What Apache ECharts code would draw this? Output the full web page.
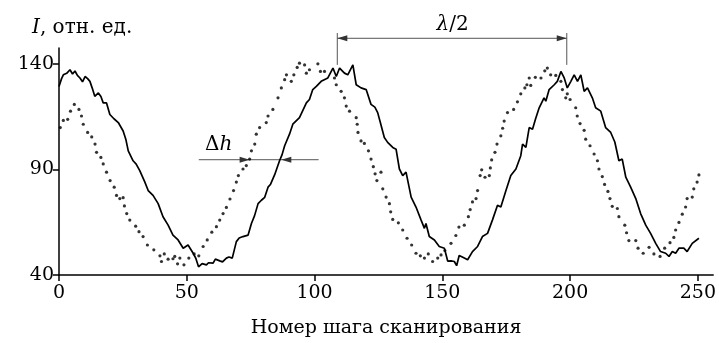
<!DOCTYPE html>
<html>
<head>
<meta charset="utf-8">
<script src="https://cdn.jsdelivr.net/npm/echarts@6/dist/echarts.min.js"></script>
<style>
  html, body { margin: 0; padding: 0; background: #fff; }
  #chart { width: 719px; height: 343px; }
</style>
</head>
<body>
<div id="chart"></div>
<script>
// сплошная кривая
const solidData = [
  [0,129.3],[1,133],[1.7,134.8],[3,135.5],[4.3,137.2],[5.3,135.2],[6.25,136.6],[7.2,134.5],[8.2,133.3],[9.2,131.5],
  [10.2,134],[11.2,133],[12.1,131.7],[13,128.5],[14,124.6],[15.4,126.2],[16.4,124.5],[17.3,121.5],[18.6,121.5],[19.9,116],
  [21.5,114],[23.2,112.2],[25.1,108.2],[26.2,104],[27.1,98.8],[29,94.1],[30.2,92.5],[31.6,89.4],[32.3,88.7],[33.6,84],
  [34.9,80],[36.8,77.7],[38.8,73.8],[40.7,67.6],[42.7,63.6],[44.6,58.9],[46.6,56.6],[48.6,52.7],[50.5,54.2],[52.5,50.3],
  [53.5,48],[54.6,43.9],[56,45.4],[57.7,44.8],[58.5,45.8],[60.3,45.6],[61.2,47.5],[62.9,46.7],[64,46.2],[65.5,48],
  [66.5,48.5],[67.8,48],[69.4,55.8],[70.5,57.5],[72,58.2],[74,58.9],[75.3,64.4],[76.5,68],[77.9,73.8],[79.2,75.4],
  [80.5,76.8],[81.8,81.6],[82.8,83],[84.4,87.5],[86.3,94.1],[87.3,97],[88.3,101.2],[90.2,106.7],[91.5,111.4],[92.2,111],
  [94.1,114.5],[94.8,115.3],[96.8,121.5],[98,123.1],[99.3,127.8],[100.7,129.3],[102.6,131.7],[105.2,133.3],[107.2,138],[108.5,134],
  [109.8,138],[111.7,135.6],[113,134.8],[115,139.5],[116.3,130.1],[118.2,128.6],[120.2,127.8],[122.1,120.8],[123.6,119.5],[124.7,116.9],
  [125.8,112],[127.3,105.1],[128.6,102.8],[130.6,100.4],[131.9,99.6],[133.2,90.2],[134.5,87.1],[135.8,88.7],[137.8,76.9],[139.7,72.2],
  [141.7,66],[143,62.1],[143.6,64.4],[144.9,58.2],[146.9,56.6],[148.8,53.5],[150.8,52.7],[152.1,46.6],[153.4,46.7],[154.7,46.4],
  [155.6,44.4],[156.6,49.2],[158.6,48],[159.9,47.2],[160.5,46.7],[161.8,51.1],[163.8,53.5],[165.7,58.2],[167.7,59.7],[169.6,66],
  [171.6,73],[172.9,72.2],[174.9,80],[176.8,87.1],[178.8,90.2],[180.7,96.5],[181.4,102],[182.7,100.4],[184,109.8],[185.3,109],
  [186.5,114],[187.9,119.2],[189.8,123.9],[190.5,122.3],[191.8,127.8],[193.8,130.1],[195,131.7],[196.4,136.4],[197.7,133.3],[198.9,128.6],
  [200.3,131.7],[201.6,134.8],[202.9,131.7],[204.2,134.8],[205.5,127],[206.8,128.6],[208.7,123.9],[210,119.2],[212,117.6],[213.9,109.8],
  [215.9,107.5],[217.5,103],[219.1,94.1],[220.4,94.9],[221.8,86.3],[223.7,81.6],[225.7,76.2],[227.6,69.1],[229.6,63.6],[231.5,59.7],
  [233.5,55],[235.4,51.1],[237.4,50.3],[238.7,48.8],[240,51.1],[241.3,50.3],[242.6,52.7],[244.5,52.7],[245.8,51.1],[247.8,55],
  [250.4,57.4]
]

// точечная кривая
const dottedData = [
  [0.5,109.8],[1.7,113.2],[3.4,113.7],[4.5,117.6],[6,120.8],[7.8,118.4],[8.8,115.3],[9.5,111.4],[11.2,107.5],[12.8,105.4],
  [14.1,102],[14.7,98.1],[16.4,95.7],[17.3,92.6],[18.6,88.7],[20,84.7],[21.6,81.6],[22.5,77.7],[23.8,76.2],[25.1,76.6],
  [25.6,72.7],[26.5,69.1],[27.7,66],[30,63.1],[31.3,60.5],[32.9,58.2],[34.6,54.2],[37.1,51.9],[39.5,49.1],[40.1,46.4],
  [41.2,50],[42.7,47.5],[44.6,47.7],[45.3,48.8],[46.4,45.3],[47.3,48],[48.9,44.8],[50.8,48],[52.9,50],[54.7,49.1],
  [56.4,53.5],[58,56.6],[59.8,60.3],[61.6,62.9],[62.9,66],[64.2,69.1],[65.5,72],[66.9,76],[68.3,80],[69.4,84],
  [70.2,87.1],[72,90.2],[73.3,91.8],[74.6,94.9],[75.3,98.8],[76.6,102],[77.2,106.7],[78.5,109.8],[81.1,112.2],[81.8,115.3],
  [83.7,118.4],[85.7,123.9],[87,128.6],[88.3,132.5],[89,134.8],[90.9,131.7],[91.9,134.8],[93.2,138.3],[94.1,140.3],[96.1,139.5],
  [96.8,135.6],[98,137.2],[101.3,140],[102.3,136.4],[103.9,136.4],[107.8,133.3],[108.5,130.1],[110.4,127],[111.7,123.9],[112.4,120],
  [113.7,117.6],[116.3,114.5],[116.7,111.4],[117,107.5],[118.2,103.5],[119.5,102.3],[121.1,98.8],[122.1,94.9],[123,91.3],[123.7,87.9],
  [124.4,84.7],[126,88.7],[126.7,80.8],[128,76.9],[129.3,73.8],[129.8,69.9],[130.6,66.3],[132.8,64.7],[134.5,61.3],[136.2,57.4],
  [138,54.2],[139.7,50.3],[141.4,49.1],[143,48],[144.5,50],[146.2,46.4],[148.2,48],[149.5,49.5],[151,51.6],[153.4,55],
  [155.3,58.7],[156.5,62.7],[158.6,63.6],[160.2,67.6],[160.9,71],[161.8,74.6],[163.2,76.2],[163.8,80],[164.8,87.1],[165.4,89.8],
  [166.7,86.3],[168.4,87.1],[168.8,90.7],[169.3,94.5],[170.6,98.1],[171.4,102],[172.9,105.9],[173.6,109.5],[174.2,112.9],[175.5,116.9],
  [177.9,118.4],[179.4,122],[180.7,125.8],[182.3,128.6],[183.1,130.1],[184,133.3],[184.6,129.8],[186.4,133.6],[188.6,133.3],[190.1,136.7],
  [191.1,138],[192.4,134.8],[194.4,134.5],[196.4,131.7],[197,127.8],[198.3,123.9],[198.9,125.8],[200,123.1],[202.2,119.2],[202.8,115.3],
  [203.9,111.7],[205.5,108.5],[206.1,104.3],[207.8,101.2],[209.4,97.3],[210.7,94.1],[211.3,90.2],[212.6,86.6],[213.5,82.9],[214.8,79.6],
  [215.6,76.2],[216.5,72.5],[218.5,71.5],[219.1,67.6],[221.4,63.6],[222.1,60],[223,56.3],[225.7,56.3],[226.6,52.7],[228.6,50.3],
  [230.9,53.1],[232.8,50],[235.2,48.8],[237,52.7],[239.1,55.3],[240.6,57.8],[241.3,61.3],[242.6,64.9],[243.9,68.8],[245.2,72.2],
  [245.8,76.2],[247.8,76.9],[248.4,80.8],[249.7,84],[250.4,87.4]
]

const xTicks = [0, 50, 100, 150, 200, 250]
const yTicks = [40, 90, 140]

// подписи-стрелки (в единицах данных)
const halfWaveX = [108.9, 198.7]   // λ/2
const deltaHX = [54.7, 74.6, 87, 101.6]  // Δh: начало линии, острие, острие, конец

const serif = 'DejaVu Serif'
const chart = echarts.init(document.getElementById('chart'))

chart.setOption({
  animation: false,
  grid: { left: 59, right: 4, top: 48, bottom: 66 },
  xAxis: {
    type: 'value',
    min: 0,
    max: 256,
    axisLine: { lineStyle: { color: '#000', width: 1.5 } },
    axisTick: { customValues: xTicks, length: 6, lineStyle: { color: '#000', width: 1.5 } },
    axisLabel: { customValues: xTicks, color: '#000', fontFamily: serif, fontSize: 19, margin: 9 },
    splitLine: { show: false },
    name: 'Номер шага сканирования',
    nameLocation: 'middle',
    nameGap: 44,
    nameTextStyle: { color: '#000', fontFamily: serif, fontSize: 19 }
  },
  yAxis: {
    type: 'value',
    min: 40,
    max: 147.5,
    axisLine: { show: true, lineStyle: { color: '#000', width: 1.5 } },
    axisTick: { show: true, customValues: yTicks, length: 6, lineStyle: { color: '#000', width: 1.5 } },
    axisLabel: { customValues: yTicks, color: '#000', fontFamily: serif, fontSize: 19, margin: 5 },
    splitLine: { show: false }
  },
  series: [
    {
      type: 'line',
      data: solidData,
      symbol: 'none',
      lineStyle: { color: '#000', width: 1.7 }
    },
    {
      type: 'scatter',
      data: dottedData,
      symbol: 'circle',
      symbolSize: 3.2,
      itemStyle: { color: '#000' }
    }
  ]
})

function px(x, y) {
  return chart.convertToPixel({ gridIndex: 0 }, [x, y])
}

function arrowHead(tip, dir) {
  // dir: +1 острие вправо, -1 влево
  const [tx, ty] = tip
  return {
    type: 'polygon',
    shape: { points: [[tx, ty], [tx - dir * 10, ty - 3], [tx - dir * 10, ty + 3]] },
    style: { fill: '#333' }
  }
}

const gray = '#555'
const lamY = 152.1
const dhY = 94.6
const a = px(halfWaveX[0], lamY)
const b = px(halfWaveX[1], lamY)
const aTop = px(halfWaveX[0], 154.6)
const aBot = px(halfWaveX[0], 139.5)
const bBot = px(halfWaveX[1], 139.5)
const d0 = px(deltaHX[0], dhY)
const d1 = px(deltaHX[1], dhY)
const d2 = px(deltaHX[2], dhY)
const d3 = px(deltaHX[3], dhY)
const lamLabel = px(154, 158.5)
const dhLabel = px(62.5, 101.5)

chart.setOption({
  graphic: [
    { type: 'line', shape: { x1: aTop[0], y1: aTop[1], x2: aBot[0], y2: aBot[1] }, style: { stroke: gray, lineWidth: 1 } },
    { type: 'line', shape: { x1: b[0], y1: aTop[1], x2: bBot[0], y2: bBot[1] }, style: { stroke: gray, lineWidth: 1 } },
    { type: 'line', shape: { x1: a[0], y1: a[1], x2: b[0], y2: b[1] }, style: { stroke: gray, lineWidth: 1 } },
    arrowHead(a, -1),
    arrowHead(b, 1),
    { type: 'line', shape: { x1: d0[0], y1: d0[1], x2: d3[0], y2: d3[1] }, style: { stroke: gray, lineWidth: 1 } },
    arrowHead(d1, 1),
    arrowHead(d2, -1),
    {
      type: 'text', x: lamLabel[0], y: lamLabel[1],
      style: {
        text: '{i|λ}/2', align: 'center', verticalAlign: 'middle',
        font: '20px "DejaVu Serif"', fill: '#000',
        rich: { i: { fontStyle: 'italic', fontFamily: serif, fontSize: 20 } }
      }
    },
    {
      type: 'text', x: dhLabel[0], y: dhLabel[1],
      style: {
        text: 'Δ{i|h}', align: 'center', verticalAlign: 'middle',
        font: '20px "DejaVu Serif"', fill: '#000',
        rich: { i: { fontStyle: 'italic', fontFamily: serif, fontSize: 20 } }
      }
    },
    {
      type: 'text', x: 32, y: 28,
      style: {
        text: '{i|I}, отн. ед.', verticalAlign: 'middle',
        font: '20px "DejaVu Serif"', fill: '#000',
        rich: { i: { fontStyle: 'italic', fontFamily: serif, fontSize: 20 } }
      }
    }
  ]
})
</script>
</body>
</html>
